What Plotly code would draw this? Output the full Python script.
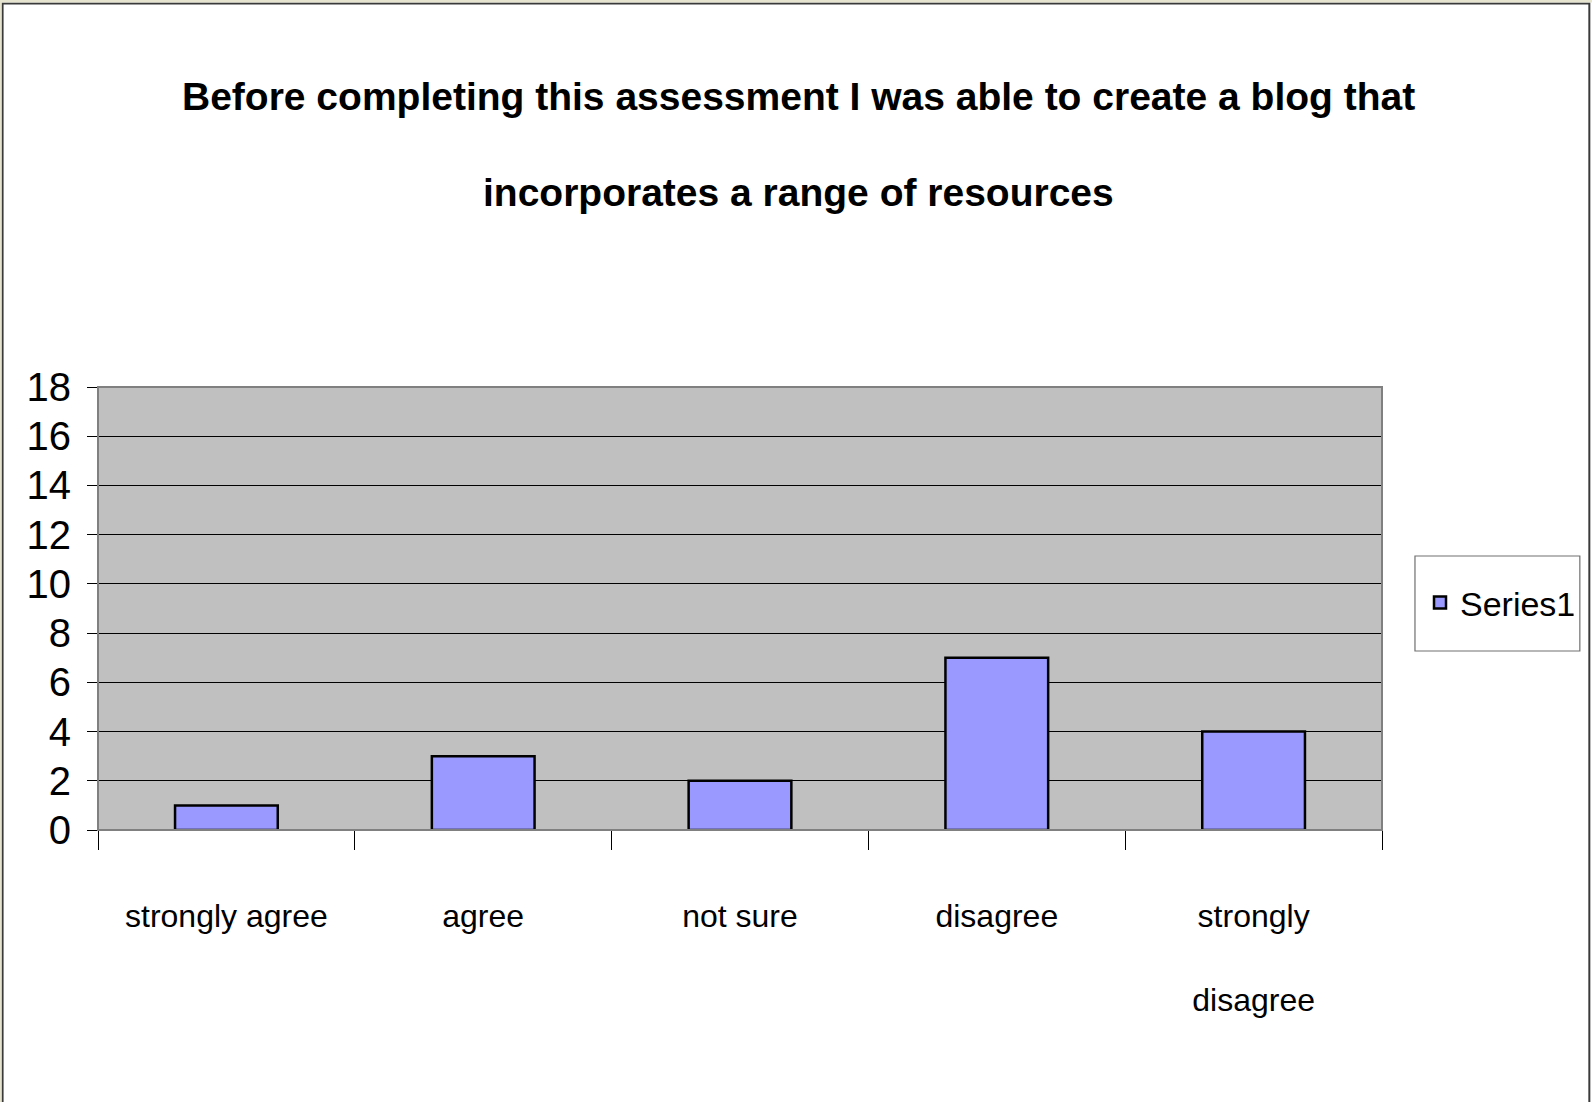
import plotly.graph_objects as go

# ---- data ----
categories = ["strongly agree", "agree", "not sure", "disagree", "strongly<br><br>disagree"]
values = [1, 3, 2, 7, 4]
series_name = "Series1"
title_line1 = "Before completing this assessment I was able to create a blog that"
title_line2 = "incorporates a range of resources"
y_ticks = [0, 2, 4, 6, 8, 10, 12, 14, 16, 18]

W, H = 1592, 1102
L, R, T, B = 98, 1383, 387, 830  # plot area in pixels
FONT = "Liberation Sans, Arial, sans-serif"


def px(x):
    return (x - L) / (R - L)


def py(y):
    return (B - y) / (B - T)


fig = go.Figure()
fig.add_trace(go.Bar(
    x=categories, y=values, name=series_name,
    marker=dict(color="#9999FF", line=dict(color="black", width=2.5)),
    showlegend=True,
))

shapes = [
    # plot area frame (top/right grey)
    dict(type="rect", xref="x domain", yref="y domain", x0=0, x1=1, y0=0, y1=1,
         line=dict(color="#808080", width=2), layer="above"),
    # legend box
    dict(type="rect", xref="paper", yref="paper",
         x0=px(1416), x1=px(1581), y0=py(651), y1=py(556),
         line=dict(color="#707070", width=1.2), layer="above"),
    # outer page frame
    dict(type="rect", xref="paper", yref="paper",
         x0=px(2.5), x1=px(1590.5), y0=py(1120), y1=py(3.5),
         line=dict(color="#3a3a3a", width=2), layer="above"),
    dict(type="rect", xref="paper", yref="paper",
         x0=px(-5), x1=px(1.5), y0=py(1120), y1=py(-5),
         fillcolor="#E6E3CF", line=dict(width=0), layer="above"),
    dict(type="rect", xref="paper", yref="paper",
         x0=px(-5), x1=px(1600), y0=py(2.5), y1=py(-5),
         fillcolor="#E6E3CF", line=dict(width=0), layer="above"),
]

annotations = [
    dict(text=title_line1, xref="paper", yref="paper", x=px(799), y=py(96),
         xanchor="center", yanchor="middle", showarrow=False,
         font=dict(family=FONT, size=39, color="black", weight="bold")),
    dict(text=title_line2, xref="paper", yref="paper", x=px(799), y=py(192),
         xanchor="center", yanchor="middle", showarrow=False,
         font=dict(family=FONT, size=39, color="black", weight="bold")),
]

fig.update_layout(
    width=W, height=H,
    margin=dict(l=L, r=W - R, t=T, b=H - B, pad=0),
    paper_bgcolor="white", plot_bgcolor="#C0C0C0",
    bargap=0.6,
    shapes=shapes, annotations=annotations,
    showlegend=True,
    legend=dict(x=px(1420), y=py(603), xanchor="left", yanchor="middle",
                bgcolor="rgba(0,0,0,0)", borderwidth=0,
                font=dict(family=FONT, size=34, color="black"),
                itemwidth=30),
    font=dict(family=FONT, color="black"),
)

fig.update_xaxes(
    type="category", showgrid=False, showline=True, linecolor="black", linewidth=1,
    ticks="outside", tickson="boundaries", ticklen=19, tickcolor="black", tickwidth=1,
    tickangle=0,
    tickfont=dict(family=FONT, size=32, color="black"), ticklabelstandoff=58,
)
fig.update_yaxes(
    range=[0, 18], tickvals=y_ticks, showgrid=True, gridcolor="black", gridwidth=1,
    showline=True, linecolor="#404040", linewidth=1,
    ticks="outside", ticklen=10, tickcolor="black", tickwidth=1,
    tickfont=dict(family=FONT, size=40, color="black"), ticklabelstandoff=8,
    zeroline=False,
)

fig.write_html(
    "out.html",
    config={"displayModeBar": False},
    post_script="document.body.style.margin='0';document.body.style.overflow='hidden';",
)
